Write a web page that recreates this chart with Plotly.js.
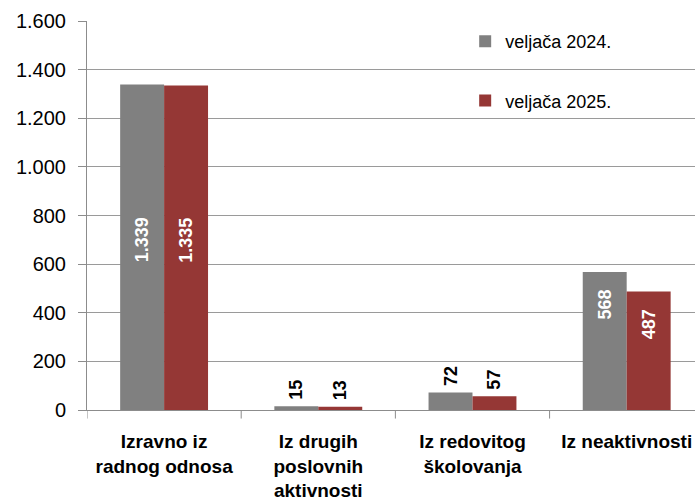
<!DOCTYPE html>
<html>
<head>
<meta charset="utf-8">
<script src="https://cdn.plot.ly/plotly-3.0.1.min.js"></script>
<style>html,body{margin:0;padding:0;background:#fff;}#chart{width:695px;height:502px;}</style>
</head>
<body>
<div id="chart"></div>
<script>
const categories = ['Izravno iz<br>radnog odnosa', 'Iz drugih<br>poslovnih<br>aktivnosti', 'Iz redovitog<br>školovanja', 'Iz neaktivnosti'];
const series2024 = [1339, 15, 72, 568];
const series2025 = [1335, 13, 57, 487];
const seriesNames = ['veljača 2024.', 'veljača 2025.'];
const yTicks = [0, 200, 400, 600, 800, 1000, 1200, 1400, 1600];

const colors = ['#808080', '#953735'];
const xs = categories.map((c, i) => i);

function fmt(v) {
  return String(v).replace(/\B(?=(\d{3})+(?!\d))/g, '.');
}

const traces = [series2024, series2025].map((vals, k) => ({
  type: 'bar',
  name: seriesNames[k],
  x: xs,
  y: vals,
  marker: {color: colors[k], line: {width: 0}},
  legendgroup: 'g' + k,
  hoverinfo: 'skip'
}));

const annotations = [];
[series2024, series2025].forEach((vals, k) => {
  vals.forEach((v, i) => {
    const a = {
      x: i, xref: 'x', yref: 'y',
      text: fmt(v), showarrow: false, textangle: -90,
      xshift: k === 0 ? -22 : 22,
      font: {family: 'Liberation Sans, Arial, sans-serif', size: 18, color: '#fff', weight: 'bold'}
    };
    if (v >= 1000) {
      a.y = v / 2; a.yanchor = 'middle'; a.yshift = 7;
    } else if (v >= 100) {
      a.y = v; a.yanchor = 'top'; a.yshift = -16;
    } else {
      a.y = v; a.yanchor = 'bottom'; a.yshift = 5;
      a.font.color = '#000';
    }
    annotations.push(a);
  });
});

const layout = {
  width: 695, height: 502,
  margin: {l: 87, r: 0, t: 21, b: 92},
  paper_bgcolor: '#fff', plot_bgcolor: '#fff',
  separators: ',.',
  barmode: 'group', bargap: 0.43, bargroupgap: 0,
  font: {family: 'Liberation Sans, Arial, sans-serif', color: '#000'},
  showlegend: true,
  legend: {
    x: 0.622, xanchor: 'left', y: 0.995, yanchor: 'top',
    bgcolor: 'rgba(0,0,0,0)', borderwidth: 0,
    tracegroupgap: 33,
    font: {size: 18, color: '#000'}
  },
  xaxis: {
    type: 'linear',
    range: [-0.5, 3.443],
    tickmode: 'array', tickvals: xs, ticktext: categories,
    showgrid: false, zeroline: false,
    showline: true, linecolor: '#8c8c8c', linewidth: 1,
    ticks: '',
    ticklabelstandoff: 14,
    tickfont: {size: 19, color: '#000', weight: 'bold'},
    fixedrange: true
  },
  yaxis: {
    range: [0, 1600],
    tickmode: 'array', tickvals: yTicks,
    tickformat: ',d',
    showgrid: true, gridcolor: '#9a9a9a', gridwidth: 1,
    zeroline: false,
    showline: true, linecolor: '#8c8c8c', linewidth: 1,
    ticks: 'outside', ticklen: 8, tickcolor: '#8c8c8c',
    ticklabelstandoff: 8,
    tickfont: {size: 20, color: '#000'},
    fixedrange: true
  },
  annotations: annotations
};

// category boundary ticks below the x axis
layout.shapes = [-0.5, 0.5, 1.5, 2.5].map(b => ({
  type: 'line', xref: 'x', yref: 'paper', x0: b, x1: b, y0: 0, y1: -0.022,
  line: {color: '#8c8c8c', width: 1}
}));

Plotly.newPlot('chart', traces, layout, {displayModeBar: false, staticPlot: true});
</script>
</body>
</html>
